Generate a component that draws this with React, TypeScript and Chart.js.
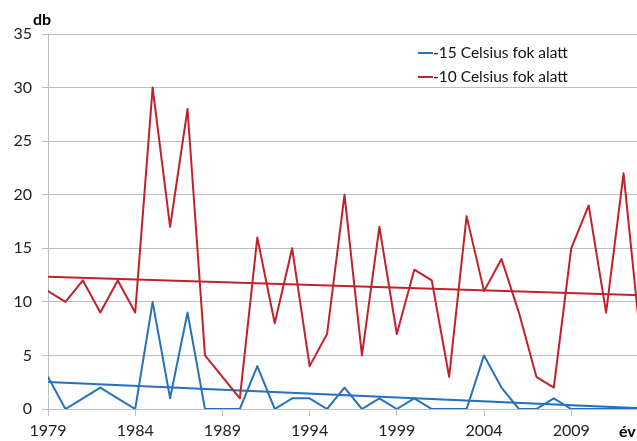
import React, { useEffect, useRef } from "react";
import { Chart, registerables } from "chart.js";

Chart.register(...registerables);

const years: number[] = [
  1979, 1980, 1981, 1982, 1983, 1984, 1985, 1986, 1987, 1988, 1989, 1990,
  1991, 1992, 1993, 1994, 1995, 1996, 1997, 1998, 1999, 2000, 2001, 2002,
  2003, 2004, 2005, 2006, 2007, 2008, 2009, 2010, 2011, 2012, 2013,
];
const below15: number[] = [
  3, 0, 1, 2, 1, 0, 10, 1, 9, 0, 0, 0, 4, 0, 1, 1, 0, 2, 0, 1, 0, 1, 0, 0, 0,
  5, 2, 0, 0, 1, 0, 0, 0, 0, 0,
];
const below10: number[] = [
  11, 10, 12, 9, 12, 9, 30, 17, 28, 5, 3, 1, 16, 8, 15, 4, 7, 20, 5, 17, 7, 13,
  12, 3, 18, 11, 14, 9, 3, 2, 15, 19, 9, 22, 6,
];
const xTickYears: number[] = [1979, 1984, 1989, 1994, 1999, 2004, 2009];
const seriesNames: string[] = ["-15 Celsius fok alatt", "-10 Celsius fok alatt"];
const yTitle = "db";
const xTitle = "év";

const BLUE = "#2672BD";
const RED = "#C0222C";
const GRID = "#BFBFBF";
const FONT = "Lato, 'Open Sans', sans-serif";

function trend(xs: number[], ys: number[]) {
  const n = xs.length;
  const mx = xs.reduce((a, b) => a + b, 0) / n;
  const my = ys.reduce((a, b) => a + b, 0) / n;
  let sxy = 0;
  let sxx = 0;
  for (let i = 0; i < n; i++) {
    sxy += (xs[i] - mx) * (ys[i] - my);
    sxx += (xs[i] - mx) * (xs[i] - mx);
  }
  const b = sxy / sxx;
  const a = my - b * mx;
  return [
    { x: xs[0], y: a + b * xs[0] },
    { x: xs[n - 1], y: a + b * xs[n - 1] },
  ];
}

const overlay = {
  id: "overlay",
  afterDraw(chart: any) {
    const ctx = chart.ctx;
    ctx.save();
    ctx.font = `bold 16px ${FONT}`;
    ctx.fillStyle = "#000";
    ctx.textBaseline = "middle";
    ctx.textAlign = "left";
    ctx.fillText(yTitle, 33, 20);
    ctx.fillText(xTitle, 619, 432);
    ctx.font = `15.5px ${FONT}`;
    const colors = [BLUE, RED];
    const ys = [53, 77];
    for (let i = 0; i < 2; i++) {
      ctx.strokeStyle = colors[i];
      ctx.lineWidth = 2;
      ctx.beginPath();
      ctx.moveTo(418, ys[i]);
      ctx.lineTo(433, ys[i]);
      ctx.stroke();
      ctx.fillStyle = "#111";
      ctx.fillText(seriesNames[i], 433, ys[i]);
    }
    ctx.restore();
  },
};

export default function App() {
  const ref = useRef<HTMLCanvasElement>(null);
  useEffect(() => {
    if (!ref.current) return;
    const mk = (vals: number[]) => years.map((y, i) => ({ x: y, y: vals[i] }));
    const lineStyle = {
      borderWidth: 2,
      pointRadius: 0,
      tension: 0,
      borderJoinStyle: "round" as const,
      borderCapStyle: "round" as const,
    };
    const chart = new Chart(ref.current, {
      type: "line",
      data: {
        datasets: [
          { label: seriesNames[0], data: mk(below15), borderColor: BLUE, ...lineStyle },
          { label: seriesNames[1], data: mk(below10), borderColor: RED, ...lineStyle },
          { label: "trend1", data: trend(years, below15), borderColor: BLUE, ...lineStyle },
          { label: "trend2", data: trend(years, below10), borderColor: RED, ...lineStyle },
        ],
      },
      options: {
        animation: false,
        responsive: true,
        maintainAspectRatio: false,
        layout: { padding: { top: 34, right: 21, left: 0, bottom: 0 } },
        plugins: { legend: { display: false }, tooltip: { enabled: false } },
        scales: {
          x: {
            type: "linear",
            min: 1979,
            max: 2013,
            afterBuildTicks: (s: any) => {
              s.ticks = xTickYears.map((v) => ({ value: v }));
            },
            afterFit: (s: any) => {
              s.height = 32;
            },
            ticks: {
              callback: (v: any) => String(v),
              font: { family: FONT, size: 16 },
              color: "#222",
              padding: 5,
              maxRotation: 0,
              autoSkip: false,
            },
            grid: {
              drawOnChartArea: false,
              drawTicks: true,
              tickLength: 7,
              color: GRID,
            },
            border: { color: GRID, width: 1 },
          },
          y: {
            min: 0,
            max: 35,
            afterFit: (s: any) => {
              s.width = 48;
            },
            ticks: {
              stepSize: 5,
              font: { family: FONT, size: 16 },
              color: "#222",
              padding: 10,
            },
            grid: { color: GRID, tickLength: 6 },
            border: { color: GRID, width: 1 },
          },
        },
      },
      plugins: [overlay],
    });
    return () => chart.destroy();
  }, []);
  return (
    <div
      style={{
        position: "fixed",
        left: 0,
        top: 0,
        width: 637,
        height: 441,
        overflow: "hidden",
        background: "#fff",
      }}
    >
      <div style={{ width: 662, height: 441, position: "relative" }}>
        <canvas ref={ref} />
      </div>
    </div>
  );
}
